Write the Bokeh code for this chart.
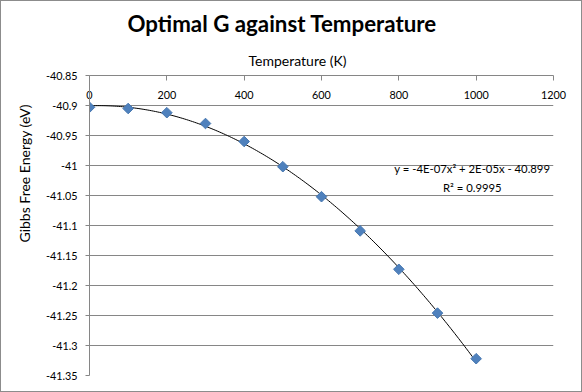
import numpy as np
from bokeh.plotting import figure
from bokeh.models import Range1d, FixedTicker, Title, Label, ColumnDataSource
from bokeh.embed import file_html
from bokeh.resources import INLINE

# ---- data ----
temperature = [0, 100, 200, 300, 400, 500, 600, 700, 800, 900, 1000]
gibbs = [-40.903, -40.905, -40.912, -40.930, -40.960, -41.002,
         -41.052, -41.109, -41.173, -41.246, -41.322]

x_ticks = [0, 200, 400, 600, 800, 1000, 1200]
y_ticks = [-40.85, -40.9, -40.95, -41, -41.05, -41.1, -41.15,
           -41.2, -41.25, -41.3, -41.35]
y_tick_labels = ["-40.85", "-40.9", "-40.95", "-41", "-41.05", "-41.1",
                 "-41.15", "-41.2", "-41.25", "-41.3", "-41.35"]

title_text = "Optimal G against Temperature"
x_title = "Temperature (K)"
y_title = "Gibbs Free Energy (eV)"
equation_text = "y = -4E-07x\u00b2 + 2E-05x - 40.899\nR\u00b2 = 0.9995"

FONT = "Lato"
GRAY = "#868686"
TICK_FS = "10.8px"

p = figure(width=580, height=390, output_backend="svg", toolbar_location=None,
           title=None, x_axis_location="above",
           x_range=Range1d(0, 1200), y_range=Range1d(-41.35, -40.85),
           frame_width=464, frame_height=300,
           min_border_left=88, min_border_top=74, min_border_right=28,
           min_border_bottom=16)
p.outline_line_color = None
p.background_fill_color = "white"
p.border_fill_color = "white"
p.styles = {"border": "1px solid #8c8c8c"}

# grid
p.xgrid.grid_line_color = None
p.ygrid.grid_line_color = GRAY
p.ygrid.grid_line_width = 1

# x axis (top, labels below the line like Excel)
xa = p.xaxis[0]
xa.ticker = FixedTicker(ticks=x_ticks)
xa.axis_line_color = GRAY
xa.major_tick_line_color = GRAY
xa.major_tick_in = 5
xa.major_tick_out = 0
xa.minor_tick_line_color = None
xa.major_label_standoff = -23
xa.major_label_text_font = FONT
xa.major_label_text_font_size = TICK_FS
xa.major_label_text_color = "black"

# y axis
ya = p.yaxis[0]
ya.ticker = FixedTicker(ticks=y_ticks)
ya.major_label_overrides = dict(zip(y_ticks, y_tick_labels))
ya.axis_line_color = GRAY
ya.major_tick_line_color = GRAY
ya.major_tick_in = 0
ya.major_tick_out = 4
ya.minor_tick_line_color = None
ya.major_label_standoff = 8
ya.major_label_text_font = FONT
ya.major_label_text_font_size = TICK_FS
ya.major_label_text_color = "black"

# titles
p.add_layout(Title(text=x_title, align="left", offset=159,
                   text_font=FONT, text_font_size="14px",
                   text_font_style="normal", text_color="black",
                   standoff=13), "above")
p.add_layout(Title(text=title_text, align="left", offset=38,
                   text_font=FONT, text_font_size="22.3px",
                   text_font_style="bold", text_color="black",
                   standoff=13), "above")
p.add_layout(Title(text=y_title, align="left", offset=133,
                   text_font=FONT, text_font_size="14px",
                   text_font_style="normal", text_color="black",
                   standoff=19), "left")

# trendline (2nd order polynomial fit of the data, as Excel does)
coef = np.polyfit(temperature, gibbs, 2)
tx = np.linspace(min(temperature), max(temperature), 200)
ty = np.polyval(coef, tx)
p.line(tx, ty, line_color="black", line_width=1)

# data points
src = ColumnDataSource(dict(x=temperature, y=gibbs))
p.scatter("x", "y", source=src, marker="square", angle=np.pi / 4, size=7.5,
          fill_color="#4F81BD", line_color="#4677B0", line_width=1)

# equation label
p.add_layout(Label(x=990, y=-40.994, text=equation_text, text_align="center",
                   text_baseline="top", text_font=FONT,
                   text_font_size="11.3px", text_color="black",
                   text_line_height=1.45))

open("out.html", "w").write(file_html(p, INLINE))
